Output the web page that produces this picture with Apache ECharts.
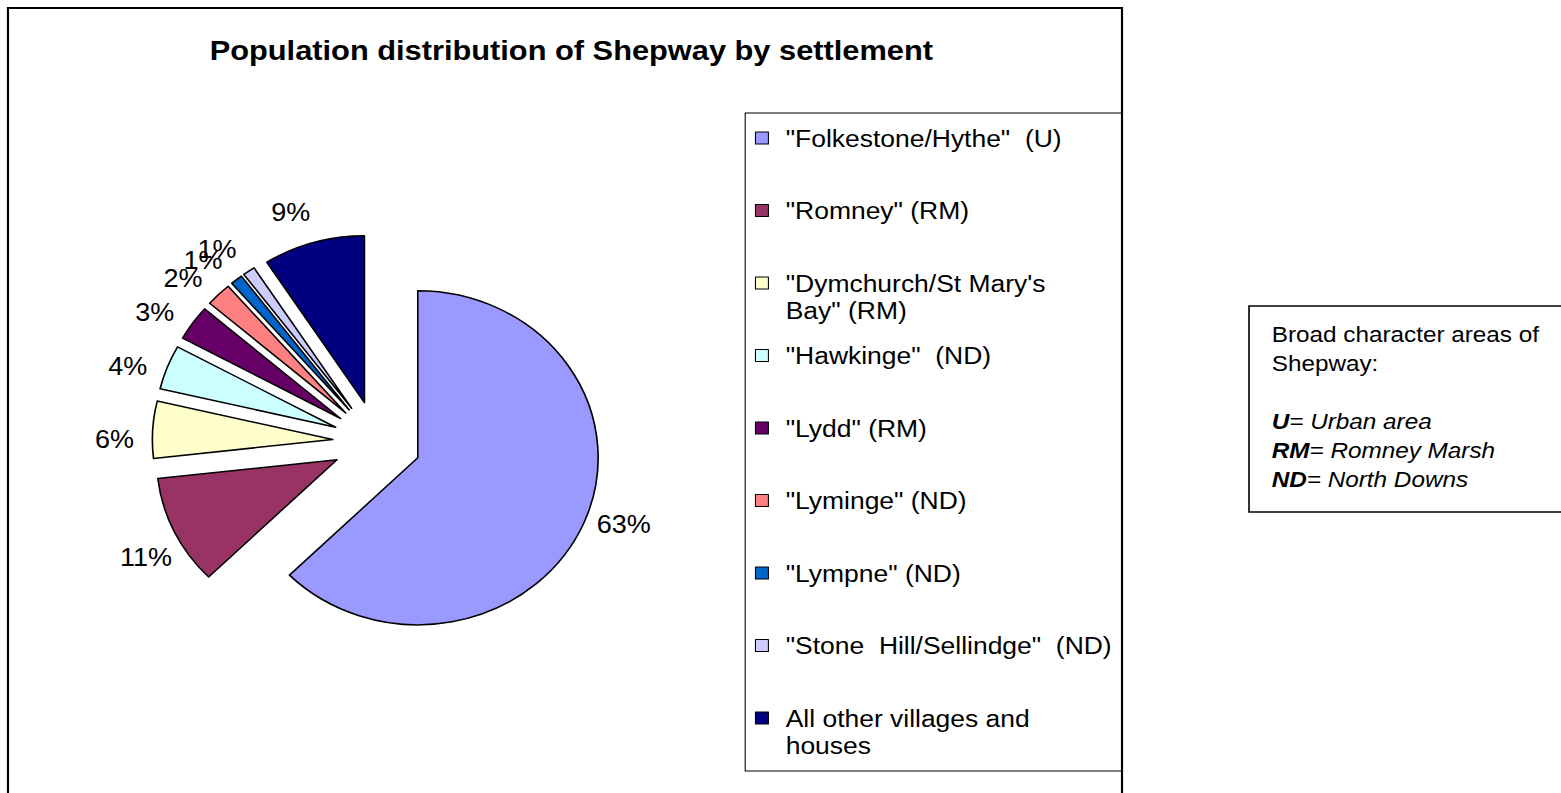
<!DOCTYPE html>
<html>
<head>
<meta charset="utf-8">
<title>Population distribution of Shepway by settlement</title>
<script src="https://cdn.jsdelivr.net/npm/echarts@6/dist/echarts.min.js"></script>
<style>
    html, body { margin: 0; padding: 0; background: #fff; overflow: hidden; }
    /* the original sheet is a slightly widened Excel picture: draw at 1/SX and stretch */
    #chart { width: 1446px; height: 793px; transform: scaleX(1.08); transform-origin: 0 0; }
</style>
</head>
<body>
<div id="chart"></div>
<script>
    // settlements (legend text), share of the population (%), slice colours
    var settlements = [
        '"Folkestone/Hythe"  (U)',
        '"Romney" (RM)',
        '"Dymchurch/St Mary\'s\nBay" (RM)',
        '"Hawkinge"  (ND)',
        '"Lydd" (RM)',
        '"Lyminge" (ND)',
        '"Lympne" (ND)',
        '"Stone  Hill/Sellindge"  (ND)',
        'All other villages and\nhouses'
    ];
    var shares = [62.6, 10.6, 5.5, 4.3, 3.4, 2.3, 1.1, 1.1, 9.1];
    var sliceColors = ['#9999FF', '#993366', '#FFFFCC', '#CCFFFF', '#660066', '#FF8080', '#0066CC', '#CCCCFF', '#000080'];

    var FONT = '"Liberation Sans", Arial, Helvetica, sans-serif';
    // pie geometry (unstretched units)
    var CX = 349, CY = 442, R = 167, EXPLODE = 41;
    // percentage labels: ring round the centre, turned a little anticlockwise
    var LABEL_RING = 240, LABEL_TURN = 2.8;
    // legend rows
    var LEGEND_X = 699, LEGEND_FIRST = 138, LEGEND_STEP = 72.5, LINE_H = 27;

    var pieData = [];
    for (var i = 0; i < shares.length; i++) {
        pieData.push({
            name: settlements[i],
            value: shares[i],
            selected: true,
            itemStyle: {color: sliceColors[i]}
        });
    }

    // two invisible label rings (alternate slices) so that neighbouring
    // labels may overlap as in the original instead of being dropped
    function labelRing(parity) {
        var list = [];
        for (var i = 0; i < shares.length; i++) {
            list.push({
                name: settlements[i],
                value: shares[i],
                label: {show: i % 2 === parity}
            });
        }
        return list;
    }

    // one legend per row so every row sits on the Excel grid
    var legends = [];
    for (var i = 0; i < settlements.length; i++) {
        var twoLines = settlements[i].indexOf('\n') >= 0;
        var centre = LEGEND_FIRST + LEGEND_STEP * i;
        legends.push({
            orient: 'vertical',
            left: LEGEND_X,
            top: twoLines ? centre - LINE_H * 1.5 : centre - LINE_H / 2,
            padding: 0,
            data: [settlements[i]],
            icon: 'rect',
            itemWidth: 12,
            itemHeight: 12,
            selectedMode: false,
            // wrapped names: empty first line keeps the box beside the first line
            formatter: function (name) {
                return name.indexOf('\n') >= 0 ? '\n' + name : name;
            },
            itemStyle: {borderColor: '#000', borderWidth: 1},
            textStyle: {
                fontFamily: FONT,
                fontSize: 24.5,
                lineHeight: LINE_H,
                color: '#000',
                padding: [0, 0, 0, 11]
            }
        });
    }

    var labelSeries = [];
    for (var k = 0; k < 2; k++) {
        labelSeries.push({
            type: 'pie',
            center: [CX, CY],
            radius: [LABEL_RING - 10, LABEL_RING + 10],
            startAngle: 90 + LABEL_TURN,
            clockwise: true,
            silent: true,
            selectedMode: false,
            avoidLabelOverlap: false,
            labelLayout: {hideOverlap: false},
            data: labelRing(k),
            itemStyle: {color: 'rgba(0,0,0,0)', borderWidth: 0},
            emphasis: {disabled: true},
            label: {
                position: 'inside',
                formatter: function (p) {
                    return Math.round(p.percent) + '%';
                },
                fontFamily: FONT,
                fontSize: 25,
                color: '#000'
            },
            labelLine: {show: false}
        });
    }

    var chart = echarts.init(document.getElementById('chart'), null, {renderer: 'svg'});
    chart.setOption({
        backgroundColor: '#fff',
        animation: false,
        title: {
            text: 'Population distribution of Shepway by settlement',
            left: 524,
            top: 30,
            textAlign: 'center',
            textStyle: {fontFamily: FONT, fontSize: 28.5, fontWeight: 'bold', color: '#000'}
        },
        legend: legends,
        graphic: [
            {   // chart area frame
                type: 'rect', silent: true,
                shape: {x: 7.4, y: 8, width: 1031.5, height: 820},
                style: {fill: 'none', stroke: '#000', lineWidth: 2}
            },
            {   // legend frame
                type: 'rect', silent: true,
                shape: {x: 690, y: 113, width: 349, height: 658},
                style: {fill: 'none', stroke: '#000', lineWidth: 1}
            },
            {   // key to the character areas
                type: 'rect', silent: true,
                shape: {x: 1156.5, y: 306, width: 320, height: 206},
                style: {fill: '#fff', stroke: '#000', lineWidth: 1.5}
            },
            {
                type: 'text', silent: true,
                left: 1177.5, top: 320,
                style: {
                    text: 'Broad character areas of\nShepway:\n\n{b|U}{i|= Urban area}\n{b|RM}{i|= Romney Marsh}\n{b|ND}{i|= North Downs}',
                    fontFamily: FONT,
                    fontSize: 22.5,
                    lineHeight: 29,
                    fill: '#000',
                    rich: {
                        b: {fontFamily: FONT, fontSize: 22.5, lineHeight: 29, fontWeight: 'bold', fontStyle: 'italic'},
                        i: {fontFamily: FONT, fontSize: 22.5, lineHeight: 29, fontStyle: 'italic'}
                    }
                }
            }
        ],
        series: [
            {   // exploded slices
                type: 'pie',
                center: [CX, CY],
                radius: R,
                startAngle: 90,
                clockwise: true,
                selectedMode: 'multiple',
                selectedOffset: EXPLODE,
                data: pieData,
                itemStyle: {borderColor: '#000', borderWidth: 1.5},
                select: {itemStyle: {borderColor: '#000', borderWidth: 1.5}},
                emphasis: {disabled: true},
                label: {show: false},
                labelLine: {show: false}
            }
        ].concat(labelSeries)
    });
</script>
</body>
</html>
